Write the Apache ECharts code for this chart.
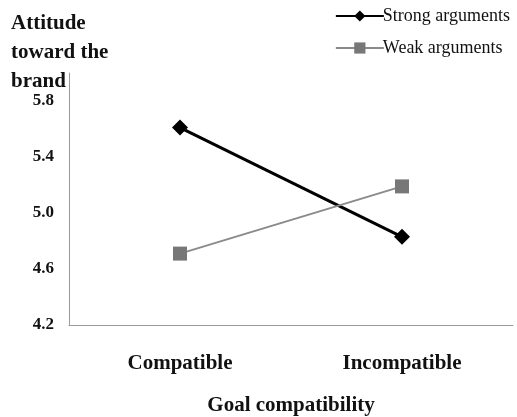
<!DOCTYPE html>
<html><head><meta charset="utf-8">
<script src="https://cdn.jsdelivr.net/npm/echarts@6/dist/echarts.min.js"></script>
<style>html,body{margin:0;padding:0;background:#fff}#c{width:517px;height:417px}</style>
</head><body><div id="c"></div>
<script>
var categories = ['Compatible', 'Incompatible'];
var strongArgs = [5.61, 4.83];
var weakArgs = [4.71, 5.19];
var yTicks = [4.2, 4.6, 5.0, 5.4, 5.8];
var seriesNames = ['Strong arguments', 'Weak arguments'];
var serif = '"Liberation Serif", "DejaVu Serif", serif';
var chart = echarts.init(document.getElementById('c'));
chart.setOption({
  animation: false,
  backgroundColor: '#fff',
  title: {
    text: 'Attitude\ntoward the\nbrand',
    left: 6, top: 4,
    textStyle: { fontFamily: serif, fontWeight: 'bold', fontSize: 21, lineHeight: 29, color: '#111' }
  },
  legend: {
    orient: 'vertical', right: 2, top: 2, itemGap: 14,
    itemWidth: 48, itemHeight: 14,
    textStyle: { fontFamily: serif, fontSize: 18, color: '#111', padding: [0, 0, 0, -6] },
    data: seriesNames
  },
  grid: { left: 69, right: 4, top: 73, bottom: 92, containLabel: false, outerBoundsMode: 'none' },
  xAxis: {
    type: 'category', data: categories, boundaryGap: true,
    axisLine: { lineStyle: { color: '#999', width: 1 } },
    axisTick: { show: false },
    axisLabel: { fontFamily: serif, fontWeight: 'bold', fontSize: 21, color: '#111', margin: 28 },
    name: 'Goal compatibility', nameLocation: 'middle', nameGap: 70,
    nameTextStyle: { fontFamily: serif, fontWeight: 'bold', fontSize: 21, color: '#111' }
  },
  yAxis: {
    type: 'value', min: 4.2, max: 6.0, interval: 0.4,
    splitLine: { show: false },
    axisLine: { show: true, lineStyle: { color: '#999', width: 1 } },
    axisTick: { show: false },
    axisLabel: {
      fontFamily: serif, fontWeight: 'bold', fontSize: 17, color: '#111', margin: 15,
      formatter: function (v) {
        var t = Math.round(v * 10) / 10;
        for (var i = 0; i < yTicks.length; i++) if (Math.abs(yTicks[i] - t) < 1e-6) return t.toFixed(1);
        return '';
      }
    }
  },
  series: [
    { name: seriesNames[0], type: 'line', data: strongArgs, symbol: 'diamond', symbolSize: 16,
      lineStyle: { color: '#000', width: 3 }, itemStyle: { color: '#000' } },
    { name: seriesNames[1], type: 'line', data: weakArgs, symbol: 'rect', symbolSize: 14,
      lineStyle: { color: '#8a8a8a', width: 2 }, itemStyle: { color: '#777' } }
  ]
});
</script></body></html>
